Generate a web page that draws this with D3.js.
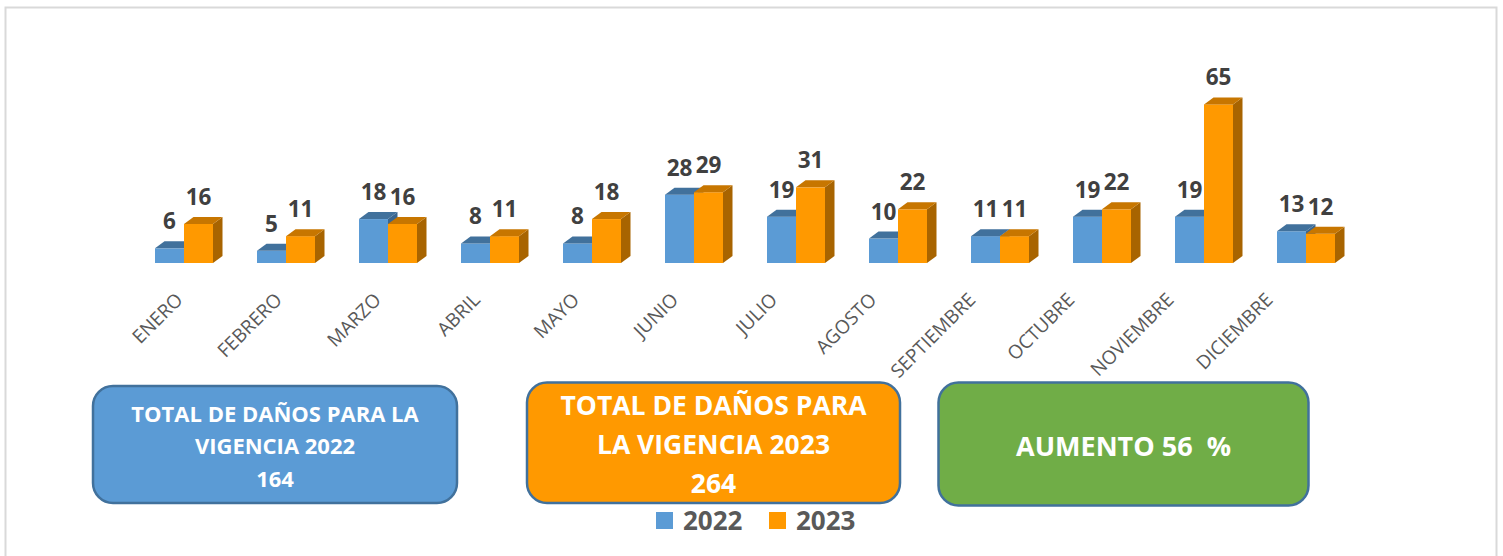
<!DOCTYPE html>
<html>
  <head>
    <meta charset="utf-8">
    <title>Daños 2022 - 2023</title>
    <script src="https://d3js.org/d3.v7.min.js"></script>
    <style>
      body { margin: 0; background: #fff; }
      text { font-family: "Open Sans", "DejaVu Sans", sans-serif; white-space: pre; }
    </style>
  </head>
  <body>
    <div id="vis"></div>
    <script>
      const width = 1503;
      const height = 556;

      // data
      const meses = ["ENERO", "FEBRERO", "MARZO", "ABRIL", "MAYO", "JUNIO", "JULIO",
                     "AGOSTO", "SEPTIEMBRE", "OCTUBRE", "NOVIEMBRE", "DICIEMBRE"];
      const series = ["2022", "2023"];
      const v2022 = [6, 5, 18, 8, 8, 28, 19, 10, 11, 19, 19, 13];
      const v2023 = [16, 11, 16, 11, 18, 29, 31, 22, 11, 22, 65, 12];
      const cajas = [
        { lines: ["TOTAL DE DAÑOS PARA LA", "VIGENCIA 2022", "164"], fill: "#5b9bd5", size: 22 },
        { lines: ["TOTAL DE DAÑOS PARA", "LA VIGENCIA 2023", "264"], fill: "#ff9900", size: 26.5 },
        { lines: ["AUMENTO 56  %"], fill: "#70ad47", size: 27 }
      ];

      const colors = {
        "2022": { front: "#5b9bd5", top: "#41719c", side: "#3a6690" },
        "2023": { front: "#ff9900", top: "#c77600", side: "#a86400" }
      };
      const depthX = 9.5, depthY = 7;

      const vis = d3.select("#vis").append("svg")
        .attr("width", width)
        .attr("height", height);

      // chart frame
      vis.append("rect")
        .attr("x", 5.5).attr("y", 7.5)
        .attr("width", 1491).attr("height", 560)
        .attr("fill", "#fff")
        .attr("stroke", "#d9d9d9")
        .attr("stroke-width", 2);

      const x = d3.scaleBand()
        .domain(meses)
        .range([133, 1357])
        .paddingInner(44 / 102)
        .paddingOuter(22 / 102);

      const xs = d3.scaleBand()
        .domain(series)
        .range([0, x.bandwidth()]);

      const y = d3.scaleLinear()
        .domain([0, 70])
        .range([263, 263 - 70 * 2.44]);

      // category labels sit on the front floor edge (slightly narrower than the bars)
      const xl = d3.scalePoint()
        .domain(meses)
        .range([184, 1274]);

      const rows = meses.map((m, i) => ({ mes: m, "2022": v2022[i], "2023": v2023[i] }));

      const bars = [];
      rows.forEach(r => series.forEach(s => bars.push({ mes: r.mes, serie: s, value: r[s] })));

      const barG = vis.append("g");
      const bar = barG.selectAll("g.bar")
        .data(bars)
        .join("g")
        .attr("class", "bar");

      // front face
      bar.append("rect")
        .attr("x", d => x(d.mes) + xs(d.serie))
        .attr("y", d => y(d.value))
        .attr("width", xs.bandwidth())
        .attr("height", d => y(0) - y(d.value))
        .attr("fill", d => colors[d.serie].front);

      // side face
      bar.append("path")
        .attr("fill", d => colors[d.serie].side)
        .attr("d", d => {
          const x1 = x(d.mes) + xs(d.serie) + xs.bandwidth();
          const y1 = y(d.value), y0 = y(0);
          return `M${x1},${y1} L${x1 + depthX},${y1 - depthY} L${x1 + depthX},${y0 - depthY} L${x1},${y0} Z`;
        });

      // top face
      bar.append("path")
        .attr("fill", d => colors[d.serie].top)
        .attr("d", d => {
          const x0 = x(d.mes) + xs(d.serie);
          const x1 = x0 + xs.bandwidth();
          const y1 = y(d.value);
          return `M${x0},${y1} L${x1},${y1} L${x1 + depthX},${y1 - depthY} L${x0 + depthX},${y1 - depthY} Z`;
        });

      // value labels
      vis.append("g").selectAll("text")
        .data(bars)
        .join("text")
        .attr("x", d => x(d.mes) + xs(d.serie) + xs.bandwidth() / 2)
        .attr("y", d => y(d.value) - 19)
        .attr("text-anchor", "middle")
        .attr("font-size", 22.5)
        .attr("font-weight", "bold")
        .attr("fill", "#404040")
        .text(d => d.value);

      // month labels
      vis.append("g").selectAll("text")
        .data(meses)
        .join("text")
        .attr("transform", d => `translate(${xl(d)},${301}) rotate(-45)`)
        .attr("text-anchor", "end")
        .attr("font-size", 19)
        .attr("fill", "#595959")
        .text(d => d);

      // summary boxes
      const boxPos = [
        { x: 93, y: 386, w: 364, h: 117, lh: 32.5, base: 421.5 },
        { x: 527, y: 382.5, w: 373, h: 120.5, lh: 39, base: 415 },
        { x: 938.5, y: 382.5, w: 370, h: 123, lh: 0, base: 455.5 }
      ];
      cajas.forEach((c, i) => {
        const p = boxPos[i];
        vis.append("rect")
          .attr("x", p.x).attr("y", p.y)
          .attr("width", p.w).attr("height", p.h)
          .attr("rx", 20)
          .attr("fill", c.fill)
          .attr("stroke", "#41719c")
          .attr("stroke-width", 2.5);
        vis.append("g").selectAll("text")
          .data(c.lines)
          .join("text")
          .attr("x", p.x + p.w / 2)
          .attr("y", (d, j) => p.base + j * p.lh)
          .attr("text-anchor", "middle")
          .attr("font-size", c.size)
          .attr("font-weight", "bold")
          .attr("fill", "#fff")
          .text(d => d);
      });

      // legend
      const legend = vis.append("g");
      const legX = d3.scaleOrdinal().domain(series).range([656, 769]);
      series.forEach(s => {
        legend.append("rect")
          .attr("x", legX(s)).attr("y", 512)
          .attr("width", 17).attr("height", 17)
          .attr("fill", colors[s].front);
        legend.append("text")
          .attr("x", legX(s) + 27).attr("y", 530)
          .attr("font-size", 26)
          .attr("font-weight", "bold")
          .attr("fill", "#595959")
          .text(s);
      });
    </script>
  </body>
</html>
